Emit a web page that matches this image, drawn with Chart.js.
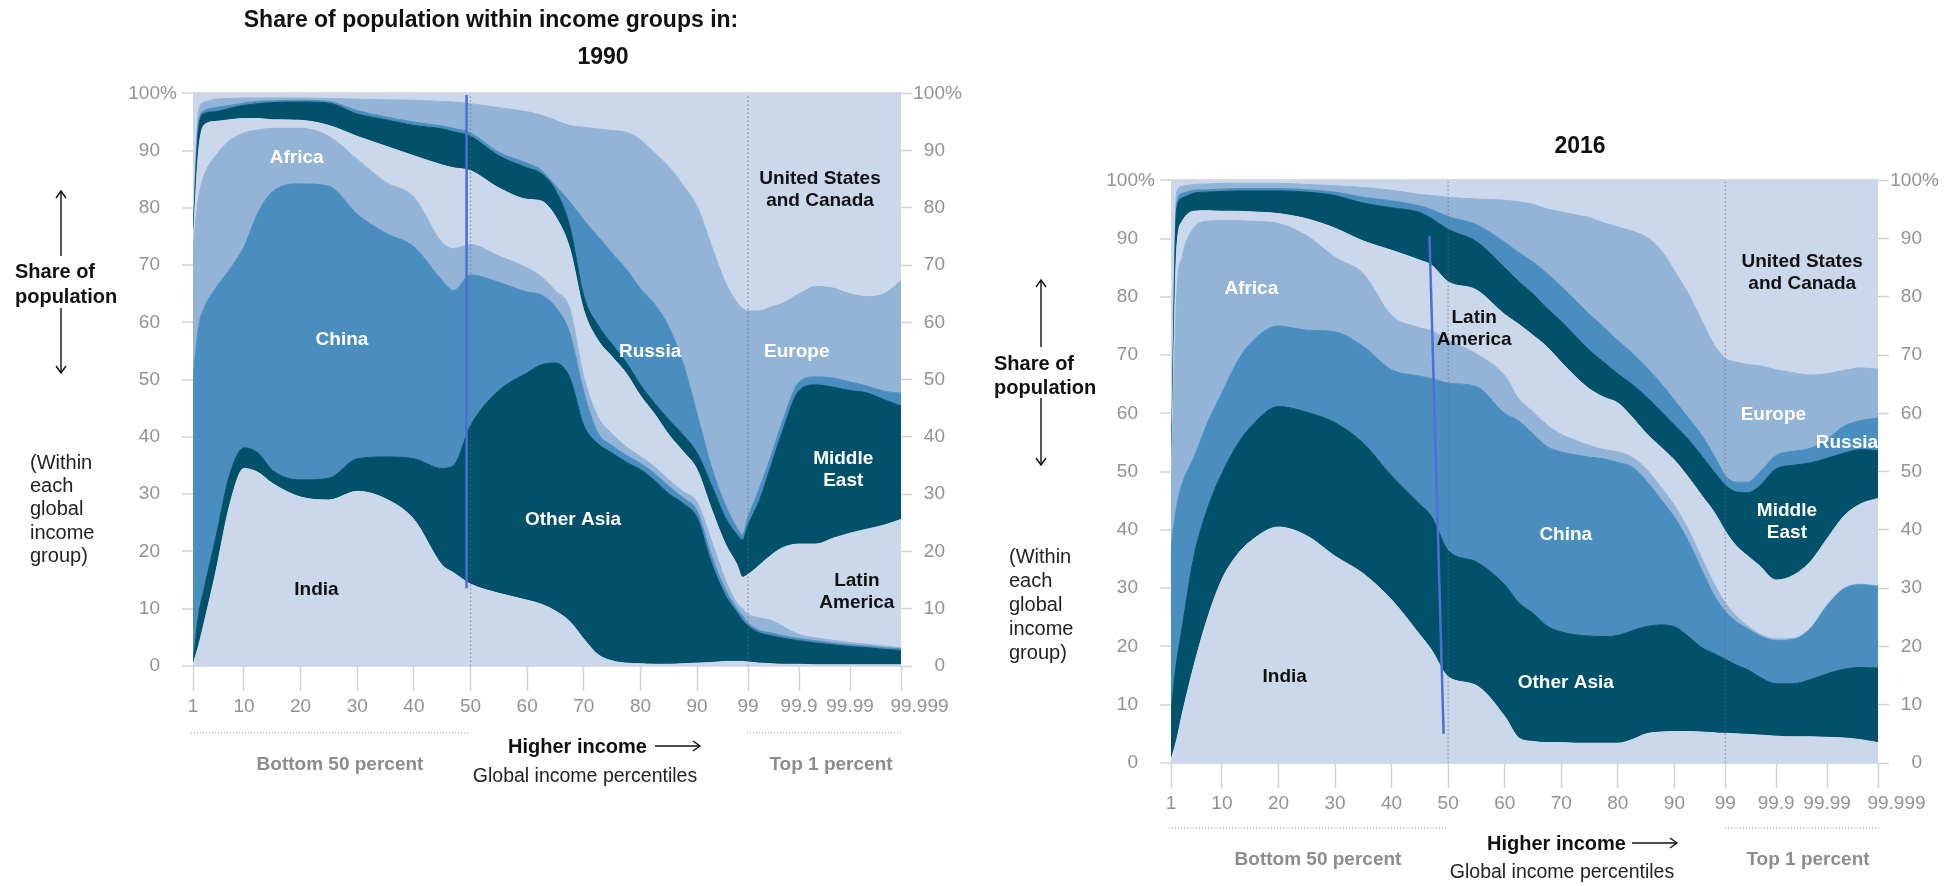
<!DOCTYPE html>
<html lang="en">
<head>
<meta charset="utf-8">
<title>Share of population within income groups, 1990 and 2016</title>
<script src="https://cdn.jsdelivr.net/npm/chart.js@4.4.1/dist/chart.umd.min.js"></script>
<style>
  html, body { margin: 0; padding: 0; background: #fff; }
  body { position: relative; width: 1949px; height: 886px; overflow: hidden;
         font-family: "Liberation Sans", Arial, Helvetica, sans-serif; color: #111; }
  canvas { position: absolute; }
  #c1990 { left: 100px; top: 60px; }
  #c2016 { left: 1078px; top: 147px; }
  svg { position: absolute; left: 0; top: 0; pointer-events: none; }
  .t { position: absolute; white-space: nowrap; line-height: 1; }
  .mid { transform: translate(-50%, -50%); }
  .lft { transform: translateY(-50%); }
  .head { font-size: 23px; font-weight: bold; }
  .side { font-size: 20px; font-weight: bold; }
  .note { font-size: 20px; color: #222; }
  .grp { font-size: 19px; font-weight: bold; color: #8c8c8c; }
  .hi { font-size: 20px; font-weight: bold; }
  .pct { font-size: 19.5px; color: #222; }
</style>
</head>
<body>
<canvas id="c1990" width="880" height="700"></canvas>
<canvas id="c2016" width="869" height="710"></canvas>

<svg width="1949" height="886" viewBox="0 0 1949 886">
  <g stroke="#111" stroke-width="1.4" fill="none">
    <line x1="61" y1="191" x2="61" y2="256"/><polyline points="56,198 61,191 66,198"/>
    <line x1="61" y1="308" x2="61" y2="373"/><polyline points="56,366 61,373 66,366"/>
    <line x1="1041" y1="280" x2="1041" y2="347"/><polyline points="1036,287 1041,280 1046,287"/>
    <line x1="1041" y1="398" x2="1041" y2="465"/><polyline points="1036,458 1041,465 1046,458"/>
    <line x1="655" y1="746" x2="700" y2="746"/><polyline points="693,741 700,746 693,751"/>
    <line x1="1632" y1="843" x2="1677" y2="843"/><polyline points="1670,838 1677,843 1670,848"/>
  </g>
  <g stroke="#b8b8b8" stroke-width="1.5" stroke-dasharray="1 2">
    <line x1="191" y1="733" x2="470" y2="733"/>
    <line x1="747" y1="733" x2="902" y2="733"/>
    <line x1="1169" y1="828" x2="1448" y2="828"/>
    <line x1="1725" y1="828" x2="1879" y2="828"/>
  </g>
</svg>

<div class="t head mid" style="left:491px;top:19px">Share of population within income groups in:</div>
<div class="t head mid" style="left:603px;top:56px">1990</div>
<div class="t head mid" style="left:1580px;top:145px">2016</div>

<div class="t side lft" style="left:15px;top:271px">Share of</div>
<div class="t side lft" style="left:15px;top:296px">population</div>
<div class="t note lft" style="left:30px;top:462px">(Within</div>
<div class="t note lft" style="left:30px;top:485px">each</div>
<div class="t note lft" style="left:30px;top:508px">global</div>
<div class="t note lft" style="left:30px;top:532px">income</div>
<div class="t note lft" style="left:30px;top:555px">group)</div>

<div class="t side lft" style="left:994px;top:363px">Share of</div>
<div class="t side lft" style="left:994px;top:387px">population</div>
<div class="t note lft" style="left:1009px;top:556px">(Within</div>
<div class="t note lft" style="left:1009px;top:580px">each</div>
<div class="t note lft" style="left:1009px;top:604px">global</div>
<div class="t note lft" style="left:1009px;top:628px">income</div>
<div class="t note lft" style="left:1009px;top:652px">group)</div>

<div class="t grp mid" style="left:340px;top:763px">Bottom 50 percent</div>
<div class="t hi lft" style="left:508px;top:746px">Higher income</div>
<div class="t pct mid" style="left:585px;top:776px">Global income percentiles</div>
<div class="t grp mid" style="left:831px;top:763px">Top 1 percent</div>

<div class="t grp mid" style="left:1318px;top:858px">Bottom 50 percent</div>
<div class="t hi lft" style="left:1487px;top:843px">Higher income</div>
<div class="t pct mid" style="left:1562px;top:872px">Global income percentiles</div>
<div class="t grp mid" style="left:1808px;top:858px">Top 1 percent</div>

<script>
// x positions: global income percentile, with the top 1 percent stretched out
// (99 -> 99, 99.9 -> 108, 99.99 -> 117, 99.999 -> 126)
const X_POS = [1, 2, 3, 5, 7.5, 10, 12.5, 15, 20, 25, 30, 35, 40, 45, 47, 50, 55, 60, 62.5, 65,
               67.5, 70, 72.5, 75, 77.5, 80, 82.5, 85, 87.5, 90, 92.5, 95, 97, 98, 99,
               101, 103, 105, 108, 111, 114, 117, 120, 123, 126];
const TICK_POS = [1, 10, 20, 30, 40, 50, 60, 70, 80, 90, 99, 108, 117, 126];
const TICK_LABELS = ['1', '10', '20', '30', '40', '50', '60', '70', '80', '90', '99', '99.9', '99.99', '99.999'];
const GUIDES = [50, 99];

const REGIONS = ['India', 'Other Asia', 'China', 'Africa', 'Latin America',
                 'Middle East', 'Russia', 'Europe', 'United States and Canada'];

// share of each income group (%) in 1990, bottom to top
const INDIA_1990 = [0.3,3.6,7.7,16.3,28.2,34.5,33.8,31.9,29.5,29.0,30.5,29.2,25.6,17.6,16.3,14.3,12.7,11.5,10.8,9.6,7.8,4.7,2.0,0.9,0.5,0.4,0.3,0.3,0.4,0.5,0.6,0.8,0.8,0.8,0.7,0.5,0.4,0.3,0.3,0.2,0.2,0.2,0.2,0.2,0.2];
const OTHERASIA_1990 = [0.2,5.4,5.9,6.0,5.3,3.6,3.4,2.3,3.0,3.8,5.7,7.3,10.6,16.9,18.7,27.7,35.4,39.7,41.8,43.3,42.6,37.3,36.8,36.3,35.1,33.9,32.1,29.8,28.0,25.4,17.5,11.5,8.6,7.2,6.3,5.3,4.9,4.6,4.1,3.8,3.5,3.2,3.0,2.7,2.5];
const CHINA_1990 = [49.6,50.3,49.0,43.7,35.8,35.1,42.0,48.6,51.7,51.0,42.7,39.1,37.0,32.8,30.6,26.3,18.9,14.1,12.2,9.8,7.8,5.8,1.9,1.3,1.2,1.1,1.2,1.3,1.0,1.2,1.3,1.0,0.6,0.8,0.5,0.4,0.5,0.4,0.4,0.4,0.3,0.3,0.3,0.3,0.3];
const AFRICA_1990 = [22.9,22.6,23.2,23.1,22.5,19.9,14.4,11.1,9.7,8.7,9.6,8.9,8.7,6.6,7.3,5.3,4.6,4.2,3.2,2.8,4.3,2.7,2.8,2.0,1.5,1.2,1.2,1.1,1.1,1.5,2.6,1.7,1.0,1.2,1.5,2.2,2.2,1.7,0.7,0.5,0.5,0.4,0.3,0.3,0.2];
const LATAM_1990 = [1.0,8.1,8.7,6.0,3.6,2.5,2.0,1.5,1.4,1.9,4.0,6.3,7.2,13.6,14.1,12.9,11.9,12.0,13.2,13.0,10.5,11.6,13.4,13.5,12.8,10.6,9.2,7.9,7.0,5.7,5.5,6.3,6.8,5.5,7.0,9.2,11.3,13.6,15.8,16.4,17.8,19.1,20.1,21.1,22.4];
const MIDEAST_1990 = [1.0,4.0,2.0,1.7,2.0,2.3,2.6,3.0,3.2,3.9,3.9,4.6,5.3,6.3,6.3,6.0,5.6,5.5,4.8,4.6,3.9,2.5,2.6,2.2,1.9,1.9,1.9,2.6,2.9,2.9,4.2,4.6,5.2,6.5,8.6,11.3,15.5,20.2,26.8,27.8,26.4,24.9,23.8,21.9,19.8];
const RUSSIA_1990 = [0.5,1.0,0.5,0.7,0.5,0.4,0.4,0.3,0.3,0.3,0.6,0.5,0.6,0.5,0.6,0.6,0.6,0.8,0.6,0.8,4.2,13.3,15.5,15.9,16.3,16.8,17.3,16.2,12.6,6.8,3.2,2.2,1.2,1.0,1.4,2.1,1.7,1.7,1.5,1.4,1.6,1.5,1.2,1.5,2.2];
const EUROPE_1990 = [0.5,2.0,1.5,1.5,1.2,0.9,0.6,0.5,0.4,0.5,2.0,3.0,3.8,4.3,4.6,5.1,7.8,9.0,9.6,11.4,13.3,16.2,18.8,21.4,23.9,26.0,26.4,28.0,31.0,36.3,38.6,38.9,39.3,39.5,36.0,31.0,26.2,20.8,15.4,15.8,15.7,15.4,15.6,17.0,19.7];
const USCAN_1990 = [24.0,3.0,1.5,1.0,0.9,0.8,0.8,0.8,0.8,0.9,1.0,1.1,1.2,1.4,1.5,1.8,2.5,3.2,3.8,4.7,5.6,5.9,6.2,6.5,6.8,8.1,10.4,12.8,16.0,19.7,26.5,33.0,36.5,37.5,38.0,38.0,37.3,36.7,35.0,33.7,34.0,35.0,35.5,35.0,32.7];

// share of each income group (%) in 2016, bottom to top
const INDIA_2016 = [0.5,4.0,8.5,16.5,25.0,31.5,35.5,38.0,40.5,39.0,35.5,32.5,28.0,22.0,19.5,14.8,13.3,8.0,4.3,3.7,3.5,3.5,3.4,3.4,3.4,3.4,4.0,5.0,5.3,5.4,5.4,5.3,5.2,5.1,5.1,5.0,4.9,4.8,4.6,4.5,4.5,4.4,4.3,4.0,3.5];
const OTHERASIA_2016 = [8.5,13.4,14.9,18.7,18.8,18.2,18.8,19.6,20.7,21.2,22.9,22.4,21.3,22.4,22.9,21.7,21.2,22.6,23.2,22.0,20.0,19.0,18.6,18.4,18.3,18.5,18.7,18.4,18.4,18.0,16.3,14.4,13.6,13.2,12.7,11.8,11.1,10.0,9.0,9.1,9.8,10.9,11.8,12.4,12.8];
const CHINA_2016 = [28.0,26.6,24.6,17.1,14.7,13.8,14.2,14.4,13.8,14.1,15.6,16.6,18.2,22.0,23.6,28.7,30.1,29.4,31.2,30.8,30.8,30.9,30.9,30.7,30.5,29.7,28.1,25.1,21.7,18.8,16.3,13.1,10.0,9.0,8.2,7.4,7.0,7.1,7.4,7.6,8.7,11.7,13.8,14.2,14.0];
const AFRICA_2016 = [8.0,36.0,39.0,39.5,34.5,29.6,24.6,21.0,17.6,16.2,12.8,12.5,9.3,8.3,8.2,7.4,5.6,6.5,3.8,3.8,3.7,3.0,2.5,2.0,1.6,1.8,1.7,2.0,2.1,2.0,2.0,2.0,2.0,1.7,1.5,1.0,0.5,0.3,0.3,0.2,0.1,0.1,0.1,0.1,0.1];
const LATAM_2016 = [1.0,8.0,6.0,2.9,1.8,1.6,1.6,1.6,1.7,2.9,5.0,5.6,11.2,11.6,11.3,10.0,11.0,10.5,12.8,13.1,13.4,12.4,10.9,9.7,9.0,8.4,6.9,6.1,6.8,7.8,9.0,10.9,12.3,12.5,12.3,12.0,12.0,11.7,10.1,10.8,11.4,11.4,12.4,13.8,15.0];
const MIDEAST_2016 = [1.0,7.0,4.0,3.1,3.2,3.4,3.5,3.6,3.9,4.6,5.6,6.5,7.3,8.2,8.0,9.0,8.3,8.0,7.3,7.1,6.6,7.0,7.0,6.6,6.0,5.0,5.6,6.3,6.2,6.0,6.5,6.8,6.9,7.3,7.9,9.3,10.9,13.6,19.1,18.9,17.0,13.8,10.8,9.3,8.2];
const RUSSIA_2016 = [0.5,1.0,0.8,0.5,0.4,0.4,0.4,0.4,0.4,0.4,0.6,1.0,1.2,1.1,1.5,2.2,2.9,4.4,5.0,5.5,6.0,6.0,6.1,6.2,6.0,5.7,5.4,5.1,4.8,4.3,3.7,3.5,2.8,2.2,1.6,1.7,1.8,2.3,2.3,2.4,2.5,3.3,4.6,5.0,5.6];
const EUROPE_2016 = [0.5,2.0,1.2,1.0,1.0,1.0,0.9,0.9,0.9,0.9,1.1,1.7,1.8,2.0,2.4,3.3,4.4,7.2,8.7,9.9,11.1,12.8,14.7,16.6,17.9,19.5,20.9,22.3,22.9,22.2,21.3,19.6,19.0,19.5,20.1,20.6,20.2,18.4,14.7,13.5,12.6,11.2,9.6,9.0,8.4];
const USCAN_2016 = [52.0,2.0,1.0,0.7,0.6,0.5,0.5,0.5,0.5,0.7,0.9,1.2,1.7,2.4,2.6,2.9,3.2,3.4,3.7,4.1,4.9,5.4,5.9,6.4,7.3,8.0,8.7,9.7,11.8,15.5,19.5,24.4,28.2,29.5,30.6,31.2,31.6,31.8,32.5,33.0,33.4,33.2,32.6,32.2,32.4];

// hand-drawn blue marker line on each panel (x position, share)
const MARK_X_1990 = [49.3, 49.3];
const MARK_Y_1990 = [99.7, 13.6];
const MARK_X_2016 = [46.7, 49.2];
const MARK_Y_2016 = [90.5, 5.0];

const FONT = '"Liberation Sans", Arial, Helvetica, sans-serif';
const TICK_COLOR = '#929292';
const PALE = '#cbd8ec', LIGHT = '#93b4d6', MED = '#4a8ec0', DARK = '#02516b';
const COLORS = [PALE, DARK, MED, LIGHT, PALE, DARK, MED, LIGHT, PALE];

const LABELS_1990 = [
  {text: 'Africa', x: 19.3, y: 88.8, color: '#fff'},
  {text: 'China', x: 27.3, y: 57.0, color: '#fff'},
  {text: 'India', x: 22.8, y: 13.3, color: '#111'},
  {text: 'Other Asia', x: 68.1, y: 25.6, color: '#fff'},
  {text: 'Russia', x: 81.7, y: 54.8, color: '#fff'},
  {text: 'Europe', x: 107.6, y: 54.8, color: '#fff'},
  {text: 'United States\nand Canada', x: 111.7, y: 83.2, color: '#111'},
  {text: 'Middle\nEast', x: 115.8, y: 34.3, color: '#fff'},
  {text: 'Latin\nAmerica', x: 118.2, y: 12.9, color: '#111'}
];
const LABELS_2016 = [
  {text: 'Africa', x: 15.2, y: 81.4, color: '#fff'},
  {text: 'Latin\nAmerica', x: 54.6, y: 74.6, color: '#111'},
  {text: 'India', x: 21.1, y: 14.8, color: '#111'},
  {text: 'China', x: 70.8, y: 39.2, color: '#fff'},
  {text: 'Other Asia', x: 70.8, y: 13.8, color: '#fff'},
  {text: 'United States\nand Canada', x: 112.6, y: 84.2, color: '#111'},
  {text: 'Europe', x: 107.5, y: 59.7, color: '#fff'},
  {text: 'Russia', x: 120.5, y: 54.9, color: '#fff'},
  {text: 'Middle\nEast', x: 109.9, y: 41.4, color: '#fff'}
];

Chart.defaults.font.family = FONT;

// region names drawn inside the areas
const regionLabels = {
  id: 'regionLabels',
  afterDatasetsDraw(chart, args, opts) {
    const {ctx, scales: {x, y}} = chart;
    ctx.save();
    ctx.font = 'bold 19px ' + FONT;
    ctx.textAlign = 'center';
    ctx.textBaseline = 'middle';
    opts.items.forEach(it => {
      const px = x.getPixelForValue(it.x);
      const py = y.getPixelForValue(it.y);
      const lines = it.text.split('\n');
      ctx.fillStyle = it.color;
      lines.forEach((t, i) => ctx.fillText(t, px, py + (i - (lines.length - 1) / 2) * 22));
    });
    ctx.restore();
  }
};

// the "%" hangs after the 100 on both axes
const percentSign = {
  id: 'percentSign',
  afterDraw(chart) {
    const {ctx} = chart;
    ctx.save();
    ctx.font = '19px ' + FONT;
    ctx.fillStyle = TICK_COLOR;
    ctx.textAlign = 'left';
    ctx.textBaseline = 'middle';
    const left = chart.scales.y, right = chart.scales.y2;
    ctx.fillText('%', left.right - left.options.grid.tickLength - left.options.ticks.padding, left.getPixelForValue(100));
    ctx.fillText('%', right.right, right.getPixelForValue(100));
    ctx.restore();
  }
};

function buildChart(id, shares, markX, markY, labels, padRight) {
  const datasets = shares.map((vals, i) => ({
    label: REGIONS[i],
    data: X_POS.map((x, j) => ({x: x, y: vals[j]})),
    backgroundColor: COLORS[i],
    borderColor: COLORS[i],
    borderWidth: 1,
    fill: i === 0 ? 'origin' : '-1',
    pointRadius: 0,
    cubicInterpolationMode: 'monotone',
    stack: 'share',
    order: 2
  }));
  GUIDES.forEach((g, k) => datasets.push({
    label: 'guide ' + g,
    data: [{x: g, y: 0}, {x: g, y: 100}],
    borderColor: 'rgba(105,105,105,0.65)',
    borderWidth: 1.2,
    borderDash: [1.5, 2.5],
    pointRadius: 0,
    fill: false,
    stack: 'guide' + k,
    order: 1
  }));
  datasets.push({
    label: 'marker',
    data: markX.map((x, j) => ({x: x, y: markY[j]})),
    borderColor: '#4b6fd6',
    borderWidth: 2.5,
    pointRadius: 0,
    fill: false,
    stack: 'marker',
    order: 0
  });

  const tickFont = {family: FONT, size: 19};
  return new Chart(document.getElementById(id), {
    type: 'line',
    data: {datasets: datasets},
    plugins: [regionLabels, percentSign],
    options: {
      responsive: false,
      animation: false,
      layout: {autoPadding: false, padding: {left: 0, right: padRight, top: 20, bottom: 0}},
      plugins: {
        legend: {display: false},
        tooltip: {enabled: false},
        regionLabels: {items: labels}
      },
      scales: {
        x: {
          type: 'linear', min: 1, max: 126,
          afterBuildTicks: s => { s.ticks = TICK_POS.map(v => ({value: v})); },
          afterFit: s => { s.height = 94; },
          border: {display: false},
          grid: {drawOnChartArea: false, tickLength: 25, tickColor: '#d2d2d2', tickWidth: 1.5},
          ticks: {
            autoSkip: false, maxRotation: 0, padding: 4, color: TICK_COLOR, font: tickFont,
            callback: (v, i) => (i === TICK_POS.length - 1 ? '       ' : '') + TICK_LABELS[i]
          }
        },
        y: {
          stacked: true, min: 0, max: 100, position: 'left',
          afterFit: s => { s.width = 93; },
          border: {display: false},
          grid: {
            color: c => (c.tick && (c.tick.value === 0 || c.tick.value === 100)) ? '#dadada' : 'rgba(0,0,0,0)',
            lineWidth: 2, tickLength: 11, tickColor: '#d2d2d2', tickWidth: 1.5
          },
          ticks: {stepSize: 10, padding: 22, color: TICK_COLOR, font: tickFont, callback: v => String(v)}
        },
        y2: {
          min: 0, max: 100, position: 'right',
          afterFit: s => { s.width = 44; },
          border: {display: false},
          grid: {drawOnChartArea: false, tickLength: 11, tickColor: '#d2d2d2', tickWidth: 1.5},
          ticks: {stepSize: 10, crossAlign: 'far', color: TICK_COLOR, font: tickFont, callback: v => String(v)}
        }
      }
    }
  });
}

buildChart('c1990',
  [INDIA_1990, OTHERASIA_1990, CHINA_1990, AFRICA_1990, LATAM_1990, MIDEAST_1990, RUSSIA_1990, EUROPE_1990, USCAN_1990],
  MARK_X_1990, MARK_Y_1990, LABELS_1990, 35);
buildChart('c2016',
  [INDIA_2016, OTHERASIA_2016, CHINA_2016, AFRICA_2016, LATAM_2016, MIDEAST_2016, RUSSIA_2016, EUROPE_2016, USCAN_2016],
  MARK_X_2016, MARK_Y_2016, LABELS_2016, 25);
</script>
</body>
</html>
